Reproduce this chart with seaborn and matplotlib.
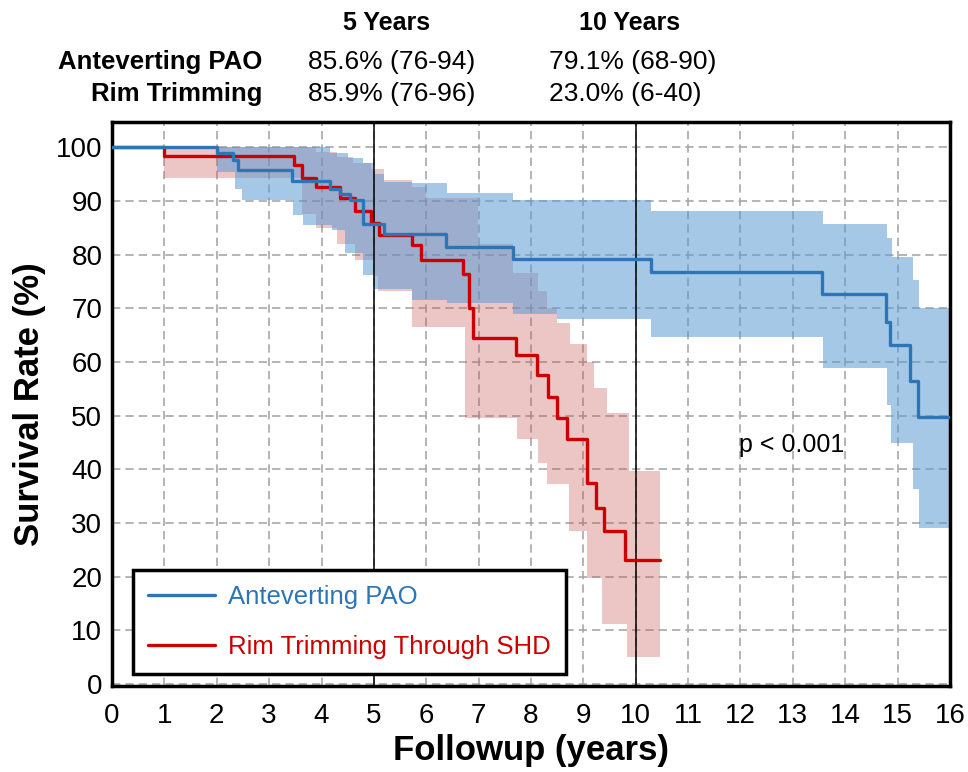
import numpy as np
import pandas as pd
import matplotlib
matplotlib.use("Agg")
import matplotlib.pyplot as plt
import seaborn as sns

# Kaplan-Meier step curves
pao_t = [0, 2.0, 2.31, 2.4, 3.43, 4.16, 4.36, 4.54, 4.79, 5.2, 6.37, 7.66, 10.3, 13.55, 14.78, 14.85, 15.23, 15.38, 16.0]
pao_s = [100, 98.9, 97.6, 95.7, 93.7, 92.3, 91.2, 90.1, 85.6, 83.8, 81.4, 79.2, 76.7, 72.6, 67.4, 63.1, 56.5, 49.8, 49.8]

rim_t = [0, 1.0, 3.47, 3.62, 3.9, 4.35, 4.64, 4.95, 5.1, 5.72, 5.9, 6.7, 6.82, 6.89, 7.72, 8.12, 8.32, 8.5, 8.68, 9.06, 9.25, 9.39, 9.8, 10.46]
rim_s = [100, 98.3, 96.6, 94.2, 92.5, 90.5, 88.2, 85.9, 83.6, 81.7, 78.9, 76.3, 70.1, 64.4, 61.2, 57.5, 53.4, 49.6, 45.7, 37.5, 32.8, 28.5, 23.0, 23.0]

# confidence bands
pao_hi_t = [2.0, 4.16, 4.5, 4.8, 5.0, 5.2, 5.72, 6.4, 7.65, 10.3, 13.57, 14.8, 14.9, 15.3, 15.4, 16.0]
pao_hi = [100, 99, 98, 97, 95.1, 93.5, 93.3, 91.4, 90.1, 88.2, 85.6, 83.0, 79.5, 75.2, 70.1, 70.1]
pao_lo_t = [2.0, 2.35, 2.48, 3.45, 3.65, 4.2, 4.45, 4.8, 5.0, 5.72, 6.4, 7.65, 8.5, 10.3, 13.57, 14.8, 14.87, 15.3, 15.4, 16.0]
pao_lo = [95.3, 92.3, 90.1, 87.3, 85.5, 84.5, 80.2, 76.1, 73.5, 71.5, 70.9, 69.0, 67.9, 64.7, 58.8, 51.9, 44.8, 36.4, 29.1, 29.1]

rim_hi_t = [1.0, 3.9, 4.3, 4.6, 4.95, 5.2, 5.72, 6.0, 6.98, 7.65, 8.13, 8.3, 8.5, 8.75, 9.07, 9.2, 9.45, 9.87, 10.46]
rim_hi = [100, 99.2, 98.1, 97, 96, 93.8, 92.5, 90.5, 82, 76.5, 73.3, 70, 67.2, 63.4, 59.9, 55.2, 50.4, 39.7, 39.7]
rim_lo_t = [1.0, 3.62, 3.9, 4.3, 4.64, 4.98, 5.08, 5.72, 6.74, 7.73, 8.13, 8.3, 8.72, 9.06, 9.35, 9.83, 10.46]
rim_lo = [94.2, 87.5, 85, 82, 79, 76, 73.3, 66.5, 49.6, 45.7, 41.2, 37.3, 28.5, 19.8, 11.2, 5.0, 5.0]

groups = ["Anteverting PAO", "Rim Trimming Through SHD"]
line_colors = {"Anteverting PAO": "#2e75b6", "Rim Trimming Through SHD": "#cc0000"}

header_cols = ["5 Years", "10 Years"]
row_labels = ["Anteverting PAO", "Rim Trimming"]
row_values = [["85.6% (76-94)", "79.1% (68-90)"],
              ["85.9% (76-96)", "23.0% (6-40)"]]


def step_at(t, v, grid):
    idx = np.searchsorted(t, grid, side="right") - 1
    return np.asarray(v)[np.clip(idx, 0, len(v) - 1)]


df = pd.concat([
    pd.DataFrame({"t": pao_t, "s": pao_s, "group": groups[0]}),
    pd.DataFrame({"t": rim_t, "s": rim_s, "group": groups[1]}),
])

sns.set_theme(style="white")
plt.rcParams["font.family"] = ["Liberation Sans", "DejaVu Sans"]
plt.rcParams["text.color"] = "black"
plt.rcParams["axes.labelcolor"] = "black"

fig = plt.figure(figsize=(9.68, 7.72), dpi=100)
ax = fig.add_axes([112 / 968, 1 - 686 / 772, (950 - 112) / 968, (686 - 122) / 772])

# bands
g = np.union1d(rim_hi_t, rim_lo_t)
ax.fill_between(g, step_at(rim_lo_t, rim_lo, g), step_at(rim_hi_t, rim_hi, g),
                step="post", color="#c85050", alpha=0.33, lw=0, zorder=2)
g = np.union1d(pao_hi_t, pao_lo_t)
ax.fill_between(g, step_at(pao_lo_t, pao_lo, g), step_at(pao_hi_t, pao_hi, g),
                step="post", color="#5b9bd5", alpha=0.55, lw=0, zorder=2)

sns.lineplot(data=df, x="t", y="s", hue="group", hue_order=groups[::-1],
             palette=line_colors, drawstyle="steps-post", estimator=None,
             sort=False, lw=2.4, ax=ax, zorder=4)

ax.axvline(5, color="black", lw=1.1, zorder=3)
ax.axvline(10, color="black", lw=1.1, zorder=3)

ax.set_xlim(0, 16)
ax.set_ylim(-0.4, 104.7)
ax.set_xticks(range(0, 17))
ax.set_yticks(range(0, 101, 10))
ax.grid(True, color="#a8a8a8", linestyle=(0, (5, 3)), lw=1.2)
ax.set_axisbelow(True)
ax.tick_params(length=0, labelsize=20, colors="black")
ax.tick_params(axis="x", pad=12)
ax.tick_params(axis="y", pad=7)
for sp in ax.spines.values():
    sp.set_visible(True)
    sp.set_color("black")
    sp.set_linewidth(2.5)

ax.set_xlabel("Followup (years)", fontsize=25, fontweight="bold", labelpad=4)
ax.set_ylabel("Survival Rate (%)", fontsize=25, fontweight="bold", labelpad=7)

ax.text(12.98, 44.6, "p < 0.001", ha="center", va="center", fontsize=18)

handles, labels = ax.get_legend_handles_labels()
order = [labels.index(g_) for g_ in groups]
leg = ax.legend([handles[i] for i in order], [labels[i] for i in order],
                loc="lower left", bbox_to_anchor=(0.025, 0.021), borderaxespad=0,
                fontsize=18.5, frameon=True, fancybox=False, framealpha=1,
                edgecolor="black", handlelength=2.6, handletextpad=0.5,
                labelspacing=1.0, borderpad=0.6, labelcolor="linecolor")
leg.get_frame().set_linewidth(2.5)
leg.set_zorder(10)

# summary table above the plot
fig.text(387 / 968, 1 - 23 / 772, header_cols[0], ha="center", va="center", fontsize=18, fontweight="bold")
fig.text(630 / 968, 1 - 23 / 772, header_cols[1], ha="center", va="center", fontsize=18, fontweight="bold")
for i, ypx in enumerate([62, 94]):
    fig.text(262 / 968, 1 - ypx / 772, row_labels[i], ha="right", va="center", fontsize=18.5, fontweight="bold")
    fig.text(308 / 968, 1 - ypx / 772, row_values[i][0], ha="left", va="center", fontsize=19)
    fig.text(549 / 968, 1 - ypx / 772, row_values[i][1], ha="left", va="center", fontsize=19)

fig.savefig("out.png", dpi=100)
